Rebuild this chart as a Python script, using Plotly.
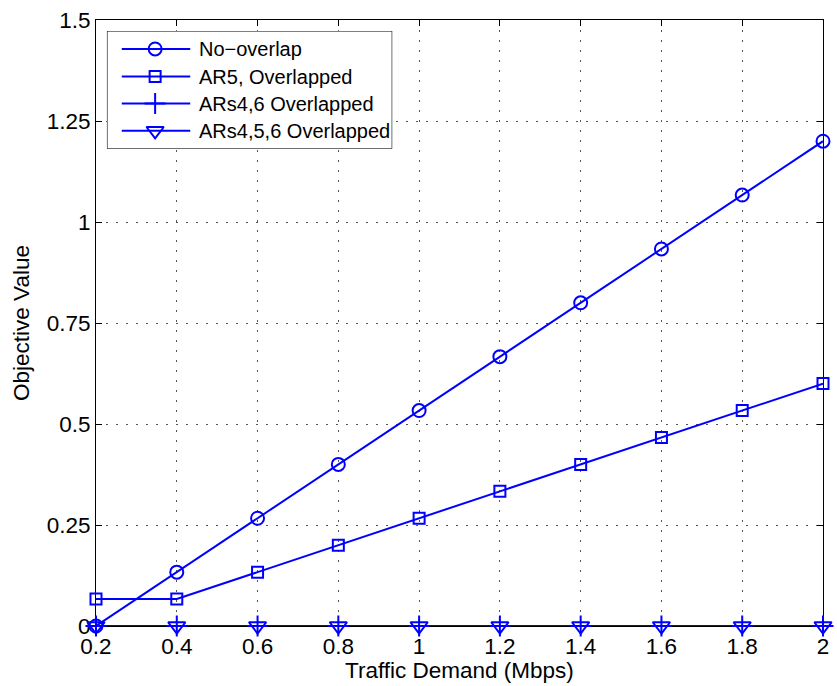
import plotly.graph_objects as go

# Traffic demand (Mbps) and objective values per scheme
demand = [0.2, 0.4, 0.6, 0.8, 1.0, 1.2, 1.4, 1.6, 1.8, 2.0]
no_overlap = [0.0, 0.1333, 0.2667, 0.4, 0.5333, 0.6667, 0.8, 0.9333, 1.0667, 1.2]
ar5_overlap = [0.0667, 0.0667, 0.1333, 0.2, 0.2667, 0.3333, 0.4, 0.4667, 0.5333, 0.6]
ars46_overlap = [0, 0, 0, 0, 0, 0, 0, 0, 0, 0]
ars456_overlap = [0, 0, 0, 0, 0, 0, 0, 0, 0, 0]

series_names = ["No\u2212overlap", "AR5, Overlapped", "ARs4,6 Overlapped", "ARs4,5,6 Overlapped"]
series_values = [no_overlap, ar5_overlap, ars46_overlap, ars456_overlap]
symbols = ["circle-open", "square-open", "cross-thin-open", "triangle-down-open"]
sizes = [13, 11, 15, 15]

x_ticks = [0.2, 0.4, 0.6, 0.8, 1.0, 1.2, 1.4, 1.6, 1.8, 2.0]
x_tick_labels = ["0.2", "0.4", "0.6", "0.8", "1", "1.2", "1.4", "1.6", "1.8", "2"]
y_ticks = [0, 0.25, 0.5, 0.75, 1.0, 1.25, 1.5]
y_tick_labels = ["0", "0.25", "0.5", "0.75", "1", "1.25", "1.5"]

BLUE = "#0000ff"
FONT = "Liberation Sans, Arial, sans-serif"
TICK_FS = 22.5
LABEL_FS = 22.5
LEGEND_FS = 20

fig = go.Figure()

for name, vals, sym, sz in zip(series_names, series_values, symbols, sizes):
    fig.add_trace(go.Scatter(
        x=demand, y=vals, mode="lines+markers", name=name,
        line=dict(color=BLUE, width=2),
        marker=dict(symbol=sym, size=sz, color=BLUE, line=dict(color=BLUE, width=2)),
        cliponaxis=False, showlegend=False,
    ))

# Boxed legend drawn on its own small axes in the upper-left corner
box_x = [0, 1, 1, 0, 0]
box_y = [0, 0, 1, 1, 0]
fig.add_trace(go.Scatter(
    x=box_x, y=box_y, xaxis="x2", yaxis="y2", mode="lines",
    fill="toself", fillcolor="white", line=dict(color="black", width=1.2),
    hoverinfo="skip", showlegend=False, cliponaxis=False,
))
row_y = [0.847, 0.613, 0.384, 0.153]
for name, sym, sz, ry in zip(series_names, symbols, sizes, row_y):
    fig.add_trace(go.Scatter(
        x=[0.052, 0.292], y=[ry, ry], xaxis="x2", yaxis="y2", mode="lines",
        line=dict(color=BLUE, width=2), hoverinfo="skip", showlegend=False,
    ))
    fig.add_trace(go.Scatter(
        x=[0.169], y=[ry], xaxis="x2", yaxis="y2", mode="markers",
        marker=dict(symbol=sym, size=sz, color=BLUE, line=dict(color=BLUE, width=2)),
        hoverinfo="skip", showlegend=False,
    ))
    fig.add_annotation(
        x=0.315, y=ry, xref="x2", yref="y2", text=name, showarrow=False,
        xanchor="left", yanchor="middle", font=dict(family=FONT, size=LEGEND_FS, color="black"),
    )

# x-axis title placed just under the tick labels
fig.add_annotation(
    x=0.5, y=0, xref="paper", yref="paper", yanchor="middle", yshift=-44,
    text="Traffic Demand (Mbps)", showarrow=False,
    font=dict(family=FONT, size=LABEL_FS, color="black"),
)

axis_common = dict(
    showline=True, linecolor="black", linewidth=1, mirror="ticks",
    ticks="inside", ticklen=6, tickcolor="black", tickwidth=1,
    showgrid=True, gridcolor="#555555", gridwidth=1, griddash="2px,8px",
    zeroline=False, tickfont=dict(family=FONT, size=TICK_FS, color="black"),
    layer="below traces",
)

fig.update_layout(
    width=837, height=686,
    margin=dict(l=96, r=8, t=19, b=60),
    paper_bgcolor="white", plot_bgcolor="white",
    xaxis=dict(
        range=[0.2, 2.0], tickvals=x_ticks, ticktext=x_tick_labels,
        **axis_common,
    ),
    yaxis=dict(
        range=[0, 1.5], tickvals=y_ticks, ticktext=y_tick_labels,
        title=dict(text="Objective Value", font=dict(family=FONT, size=LABEL_FS, color="black"), standoff=10),
        **axis_common,
    ),
    xaxis2=dict(domain=[0.015, 0.4075], range=[0, 1], visible=False, fixedrange=True, anchor="y2"),
    yaxis2=dict(domain=[0.7875, 0.982], range=[0, 1], visible=False, fixedrange=True, anchor="x2"),
    showlegend=False,
)

fig.write_html("out.html")
